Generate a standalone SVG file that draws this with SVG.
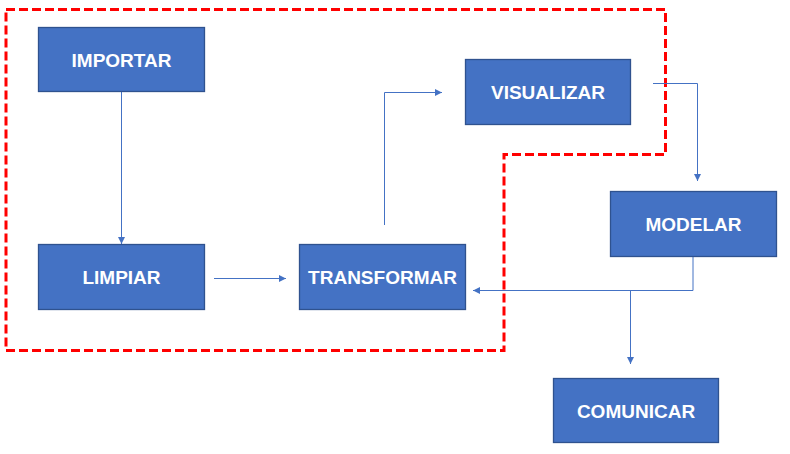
<svg xmlns="http://www.w3.org/2000/svg" width="790" height="454" viewBox="0 0 790 454">
<defs>
<style>
.box{fill:#4472C4;stroke:#2F528F;stroke-width:1.3}
.lbl{fill:#fff;font-family:"Liberation Sans",Arial,sans-serif;font-weight:bold;font-size:19px;text-anchor:middle}
.con{fill:none;stroke:#4472C4;stroke-width:1;marker-end:url(#ah)}
.con2{fill:none;stroke:#4472C4;stroke-width:1}
.zone{fill:none;stroke:#FF0000;stroke-width:3;stroke-dasharray:9 4}
</style>
<marker id="ah" viewBox="0 0 10 10" refX="10" refY="5" markerWidth="7" markerHeight="7" markerUnits="userSpaceOnUse" orient="auto">
<path d="M0,0 L10,5 L0,10 z" fill="#4472C4"/>
</marker>
</defs>
<rect width="790" height="454" fill="#fff"/>
<path class="zone" d="M6,9.5 H665.5 V154.5 H504 V350.5 H6 Z"/>
<g id="connectors">
<path class="con" d="M121.5,91 V244"/>
<path class="con" d="M214,278.5 H286"/>
<path class="con" d="M384.5,225 V92.5 H442"/>
<path class="con" d="M653,83.5 H697.5 V181"/>
<path class="con" d="M693,256 V290.5 H473"/>
<path class="con" d="M630.5,290.5 V364"/>
</g>
<g id="importar"><rect class="box" x="38.5" y="27.5" width="166" height="64"/><text class="lbl" x="121.5" y="66.5">IMPORTAR</text></g>
<g id="limpiar"><rect class="box" x="38.5" y="244.5" width="166" height="65"/><text class="lbl" x="121.5" y="284">LIMPIAR</text></g>
<g id="transformar"><rect class="box" x="299.5" y="244.5" width="166" height="65"/><text class="lbl" x="382.5" y="284">TRANSFORMAR</text></g>
<g id="visualizar"><rect class="box" x="465.5" y="59.5" width="165" height="65"/><text class="lbl" x="548" y="99">VISUALIZAR</text></g>
<g id="modelar"><rect class="box" x="610.5" y="191.5" width="166" height="65"/><text class="lbl" x="693.5" y="231">MODELAR</text></g>
<g id="comunicar"><rect class="box" x="553.5" y="378.5" width="165" height="64"/><text class="lbl" x="636" y="417.5">COMUNICAR</text></g>
</svg>
